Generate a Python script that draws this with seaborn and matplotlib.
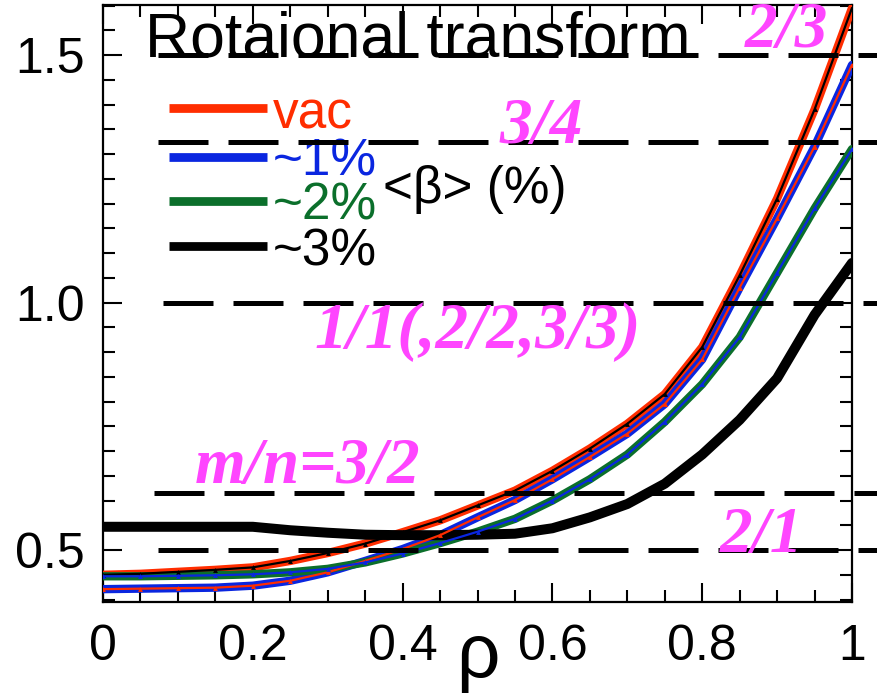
import matplotlib
matplotlib.use("Agg")
import matplotlib.pyplot as plt
import numpy as np
import pandas as pd
import seaborn as sns
from matplotlib.ticker import MultipleLocator, FixedLocator

# Normalised minor radius
rho = [0.00, 0.05, 0.10, 0.15, 0.20, 0.25, 0.30, 0.35, 0.40, 0.45, 0.50,
       0.55, 0.60, 0.65, 0.70, 0.75, 0.80, 0.85, 0.90, 0.95, 1.00]

# Rotational transform profiles for increasing volume-averaged beta
iota_vac = [0.450, 0.452, 0.456, 0.460, 0.465, 0.478, 0.494, 0.513, 0.536, 0.560, 0.590,
            0.620, 0.660, 0.705, 0.755, 0.815, 0.910, 1.055, 1.210, 1.390, 1.595]
iota_b1 = [0.421, 0.422, 0.423, 0.424, 0.428, 0.438, 0.455, 0.478, 0.502, 0.530, 0.566,
           0.601, 0.643, 0.688, 0.735, 0.795, 0.885, 1.030, 1.170, 1.315, 1.480]
iota_b2 = [0.447, 0.447, 0.448, 0.449, 0.451, 0.455, 0.462, 0.475, 0.493, 0.514, 0.537,
           0.563, 0.600, 0.643, 0.693, 0.759, 0.835, 0.930, 1.060, 1.190, 1.310]
iota_b3 = [0.547, 0.547, 0.547, 0.547, 0.547, 0.540, 0.535, 0.531, 0.530, 0.530, 0.531,
           0.533, 0.544, 0.566, 0.593, 0.634, 0.693, 0.763, 0.847, 0.975, 1.080]

series_labels = ["vac", "~1%", "~2%", "~3%"]
series_colors = ["#FF2D00", "#0A26E0", "#0B6F2B", "#000000"]
inner_colors = ["#000000", "#FF2D00", "#0A26E0", None]

# Rational surfaces
resonance_iota = [1.5, 1.325, 1.0, 0.615, 0.5]
resonance_labels = ["2/3", "3/4", "1/1(,2/2,3/3)", "m/n=3/2", "2/1"]

xticks = [0, 0.2, 0.4, 0.6, 0.8, 1.0]
xtick_labels = ["0", "0.2", "0.4", "0.6", "0.8", "1"]
yticks = [0.5, 1.0, 1.5]
ytick_labels = ["0.5", "1.0", "1.5"]

df = pd.DataFrame({
    "rho": rho * 4,
    "iota": iota_vac + iota_b1 + iota_b2 + iota_b3,
    "beta": sum([[lab] * len(rho) for lab in series_labels], []),
})

sns.set_theme(style="ticks")
plt.rcParams["font.family"] = ["Liberation Sans", "DejaVu Sans"]

fig = plt.figure(figsize=(8.78, 6.98), dpi=100)
ax = fig.add_axes([0.1173, 0.1375, 0.8531, 0.8553])

thick = [6.0, 6.0, 6.0, 7.2]
for lab, col, inner, lw in zip(series_labels, series_colors, inner_colors, thick):
    sub = df[df["beta"] == lab]
    sns.lineplot(data=sub, x="rho", y="iota", color=col, lw=lw, ax=ax,
                 estimator=None, sort=True, zorder=3)
    if inner is not None:
        sns.lineplot(data=sub, x="rho", y="iota", color=inner, lw=1.6, ax=ax,
                     estimator=None, sort=True, marker="^", markersize=3.5,
                     markeredgewidth=0, zorder=4)

# Rational-surface reference lines (extend past the right spine)
dash_start = [0.073, 0.073, 0.080, 0.068, 0.073]
for y0, x0 in zip(resonance_iota, dash_start):
    ax.plot([x0, 1.04], [y0, y0], color="black", lw=3.6, dashes=(10, 4),
            clip_on=False, zorder=5, solid_capstyle="butt", dash_capstyle="butt")

# Resonance annotations
label_pos = [(0.857, 1.516), (0.530, 1.322), (0.283, 0.908), (0.123, 0.635), (0.824, 0.496)]
for txt, (lx, ly) in zip(resonance_labels, label_pos):
    ax.text(lx, ly, txt, color="#FF45FF", fontsize=47, fontweight="bold",
            fontstyle="italic", family=["Liberation Serif", "DejaVu Serif"],
            ha="left", va="baseline", zorder=6, clip_on=False)

# Title inside the frame
ax.text(0.056, 0.913, "Rotaional transform", transform=ax.transAxes,
        fontsize=45, color="black", ha="left", va="baseline", zorder=4)

# Hand-made legend
leg_y = [0.8275, 0.745, 0.672, 0.596]
txt_y = [0.794, 0.715, 0.640, 0.564]
for lab, col, ly, ty in zip(series_labels, series_colors, leg_y, txt_y):
    ax.plot([0.088, 0.219], [ly, ly], transform=ax.transAxes, color=col, lw=6.3,
            solid_capstyle="butt", zorder=4)
    ax.text(0.227, ty, lab, transform=ax.transAxes, color=col, fontsize=37,
            ha="left", va="baseline", zorder=4)
ax.text(0.374, 0.668, "<β> (%)", transform=ax.transAxes, color="black",
        fontsize=37, ha="left", va="baseline", zorder=4)

ax.set_xlim(0, 1)
ax.set_ylim(0.395, 1.601)
ax.xaxis.set_major_locator(FixedLocator(xticks))
ax.set_xticklabels(xtick_labels)
ax.xaxis.set_minor_locator(MultipleLocator(0.05))
ax.yaxis.set_major_locator(FixedLocator(yticks))
ax.set_yticklabels(ytick_labels)
ax.yaxis.set_minor_locator(MultipleLocator(0.05))

ax.tick_params(which="both", direction="in", top=True, right=True, width=1.5,
               color="black", labelsize=36, labelcolor="black")
ax.tick_params(which="major", length=14)
ax.tick_params(which="minor", length=8.5)
ax.tick_params(axis="x", which="major", pad=16)
ax.tick_params(axis="y", which="major", pad=13)
for sp in ax.spines.values():
    sp.set_linewidth(1.6)
    sp.set_color("black")
ax.grid(False)

ax.set_ylabel("")
ax.set_xlabel("ρ", fontsize=55, color="black")
ax.xaxis.set_label_coords(0.5, -0.1256)
ax.xaxis.label.set_va("baseline")

fig.savefig("out.png", dpi=100, facecolor="white")
